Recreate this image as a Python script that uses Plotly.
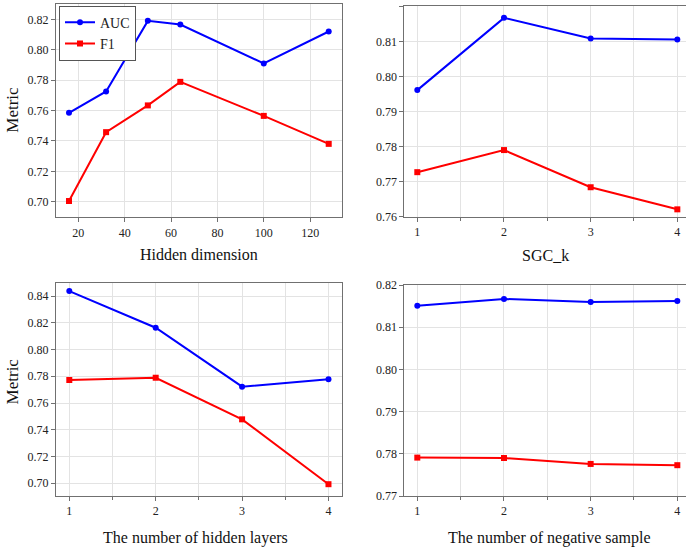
import plotly.graph_objects as go

# ---- data ----
hidden_dim = [16, 32, 50, 64, 100, 128]
hd_auc = [0.7585, 0.7726, 0.8190, 0.8166, 0.7910, 0.8120]
hd_f1 = [0.7005, 0.7458, 0.7634, 0.7789, 0.7565, 0.7381]

sgc_k = [1, 2, 3, 4]
sgc_auc = [0.7961, 0.8167, 0.8108, 0.8105]
sgc_f1 = [0.7727, 0.7790, 0.7684, 0.7621]

layers = [1, 2, 3, 4]
ly_auc = [0.8437, 0.8163, 0.7722, 0.7777]
ly_f1 = [0.7772, 0.7789, 0.7478, 0.6993]

neg = [1, 2, 3, 4]
neg_auc = [0.8151, 0.8167, 0.8160, 0.8162]
neg_f1 = [0.7791, 0.7790, 0.7776, 0.7773]

x_titles = ["Hidden dimension", "SGC_k", "The number of hidden layers", "The number of negative sample"]

BLUE = "#0000ff"
RED = "#ff0000"
FONT = "Liberation Serif"
W, H = 686, 550

fig = go.Figure()

panels = [
    (hidden_dim, hd_auc, hd_f1, "x", "y"),
    (sgc_k, sgc_auc, sgc_f1, "x2", "y2"),
    (layers, ly_auc, ly_f1, "x3", "y3"),
    (neg, neg_auc, neg_f1, "x4", "y4"),
]
for i, (xs, a, f, xa, ya) in enumerate(panels):
    fig.add_trace(go.Scatter(x=xs, y=a, mode="lines+markers", name="AUC",
                             line=dict(color=BLUE, width=2),
                             marker=dict(symbol="circle", size=6, color=BLUE),
                             xaxis=xa, yaxis=ya, showlegend=(i == 0), cliponaxis=False))
    fig.add_trace(go.Scatter(x=xs, y=f, mode="lines+markers", name="F1",
                             line=dict(color=RED, width=2),
                             marker=dict(symbol="square", size=6, color=RED),
                             xaxis=xa, yaxis=ya, showlegend=(i == 0), cliponaxis=False))

def px_x(a, b):
    return [a / W, min(b / W, 1.0)]

def px_y(top, bottom):
    return [1 - bottom / H, 1 - top / H]

GRID = "#e3e3e3"
LINE = "#707070"
common = dict(showline=True, linecolor=LINE, linewidth=1, mirror=True,
              showgrid=True, gridcolor=GRID, gridwidth=1,
              ticks="outside", ticklen=4, tickcolor=LINE,
              tickfont=dict(family=FONT, size=12, color="#222"),
              zeroline=False, automargin=False)
minor_int = dict(tick0=1, dtick=0.5, showgrid=True, gridcolor=GRID,
                 ticks="outside", ticklen=3, tickcolor=LINE)

fig.update_layout(
    template="none",
    width=W, height=H, margin=dict(l=0, r=0, t=0, b=0, pad=0, autoexpand=False),
    paper_bgcolor="white", plot_bgcolor="white",
    font=dict(family=FONT, color="#222"),
    xaxis=dict(domain=px_x(56, 341.7), range=[10.4, 133.6], tickvals=[20, 40, 60, 80, 100, 120], anchor="y", **common),
    yaxis=dict(domain=px_y(4.3, 217.3), range=[0.6898, 0.8299], tickvals=[0.70, 0.72, 0.74, 0.76, 0.78, 0.80, 0.82], tickformat=".2f", anchor="x", **common),
    xaxis2=dict(domain=px_x(404.3, 686), range=[0.85, 4.10], tickvals=[1, 2, 3, 4], minor=minor_int, anchor="y2", **common),
    yaxis2=dict(domain=px_y(6.3, 216.7), range=[0.76, 0.82], tickvals=[0.76, 0.77, 0.78, 0.79, 0.80, 0.81, 0.82], tickformat=".2f", anchor="x2", **common),
    xaxis3=dict(domain=px_x(56, 342.3), range=[0.846, 4.16], tickvals=[1, 2, 3, 4], minor=minor_int, anchor="y3", **common),
    yaxis3=dict(domain=px_y(283.3, 495.7), range=[0.6907, 0.8495], tickvals=[0.70, 0.72, 0.74, 0.76, 0.78, 0.80, 0.82, 0.84], tickformat=".2f", anchor="x3", **common),
    xaxis4=dict(domain=px_x(404.3, 686), range=[0.85, 4.10], tickvals=[1, 2, 3, 4], minor=minor_int, anchor="y4", **common),
    yaxis4=dict(domain=px_y(285, 496), range=[0.77, 0.82], tickvals=[0.77, 0.78, 0.79, 0.80, 0.81, 0.82], tickformat=".2f", anchor="x4", **common),
    legend=dict(x=59 / W, y=1 - 5.7 / H, xanchor="left", yanchor="top",
                bgcolor="white", bordercolor="#555", borderwidth=1,
                font=dict(family=FONT, size=14, color="#222"),
                itemwidth=30, tracegroupgap=0),
)

title_pos = [(198.9, 254), (545.7, 255), (195, 538), (549.7, 537.7)]
for t, (cx, cy) in zip(x_titles, title_pos):
    fig.add_annotation(text=t, x=cx / W, y=1 - cy / H, xref="paper", yref="paper",
                       showarrow=False, xanchor="center", yanchor="middle",
                       font=dict(family=FONT, size=16, color="#111"))
for cy in (110, 381.7):
    fig.add_annotation(text="Metric", x=12.7 / W, y=1 - cy / H, xref="paper", yref="paper",
                       showarrow=False, xanchor="center", yanchor="middle", textangle=-90,
                       font=dict(family=FONT, size=17, color="#111"))

fig.write_html("out.html", config={"displayModeBar": False},
               post_script="document.body.style.margin='0';document.body.style.overflow='hidden';")
